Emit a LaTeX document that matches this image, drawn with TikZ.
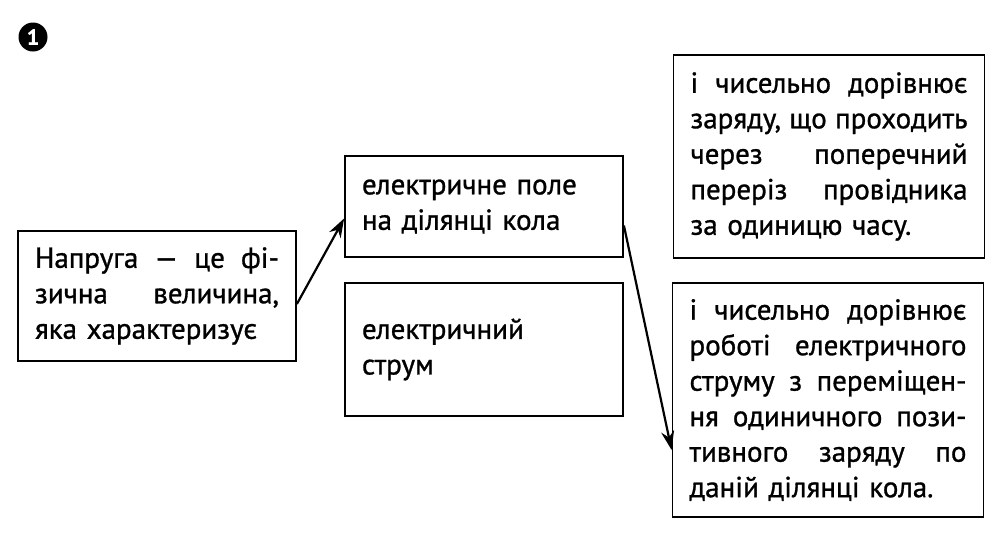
\documentclass[tikz,border=0pt]{standalone}
\usepackage{fontspec}
\setmainfont{PT Sans}[FakeBold=1]
\usetikzlibrary{arrows.meta}
\newcommand\jl[2]{\makebox[#1][l]{#2}}
\tikzset{
  box/.style={draw=black, line width=1.8pt, inner xsep=17pt, inner ysep=0pt, anchor=center, align=left,
     font=\fontsize{29}{35.5}\selectfont},
  conn/.style={line width=2.2pt, -{Stealth[length=19pt,width=13pt]}},
}
\begin{document}
\begin{tikzpicture}[x=1pt,y=-1pt]
\useasboundingbox[fill=white] (0,0) rectangle (992,542);
% number badge
\node[circle, fill=black, minimum size=29pt, inner sep=0pt, text=white, font=\bfseries\fontsize{22}{22}\selectfont] (num) at (33,37) {1};
% boxes
\node[box, text width=244pt, minimum height=130pt] (b1) at (157,296)
 {\jl{244pt}{Напруга\hfill —\hfill це\hfill фі-}\\\jl{244pt}{зична\hfill величина,}\\яка характеризує};
\node[box, text width=244pt, minimum height=101pt] (b2) at (484,206.5)
 {електричне поле\\на ділянці кола};
\node[box, text width=244pt, minimum height=133pt] (b3) at (484,349.5)
 {електричний\\струм};
\node[box, text width=277pt, minimum height=203pt] (b4) at (829,156.5)
 {\jl{277pt}{і\hfill чисельно\hfill дорівнює}\\\jl{277pt}{заряду,\hfill що\hfill проходить}\\\jl{277pt}{через\hfill поперечний}\\\jl{277pt}{переріз\hfill провідника}\\за одиницю часу.};
\node[box, text width=277pt, minimum height=234pt] (b5) at (828,400)
 {\jl{277pt}{і\hfill чисельно\hfill дорівнює}\\\jl{277pt}{роботі\hfill електричного}\\\jl{277pt}{струму\hfill з\hfill переміщен-}\\\jl{277pt}{ня\hfill одиничного\hfill пози-}\\\jl{277pt}{тивного\hfill заряду\hfill по}\\даній ділянці кола.};
% connectors
\coordinate (a1s) at ([yshift=-8pt]b1.east);
\coordinate (a1e) at ([yshift=-12pt]b2.west);
\draw[conn] (a1s) -- (a1e);
\coordinate (a2s) at ([yshift=-19pt]b2.east);
\coordinate (a2e) at ([yshift=-50pt]b5.west);
\draw[conn] (a2s) -- (a2e);
\end{tikzpicture}
\end{document}
